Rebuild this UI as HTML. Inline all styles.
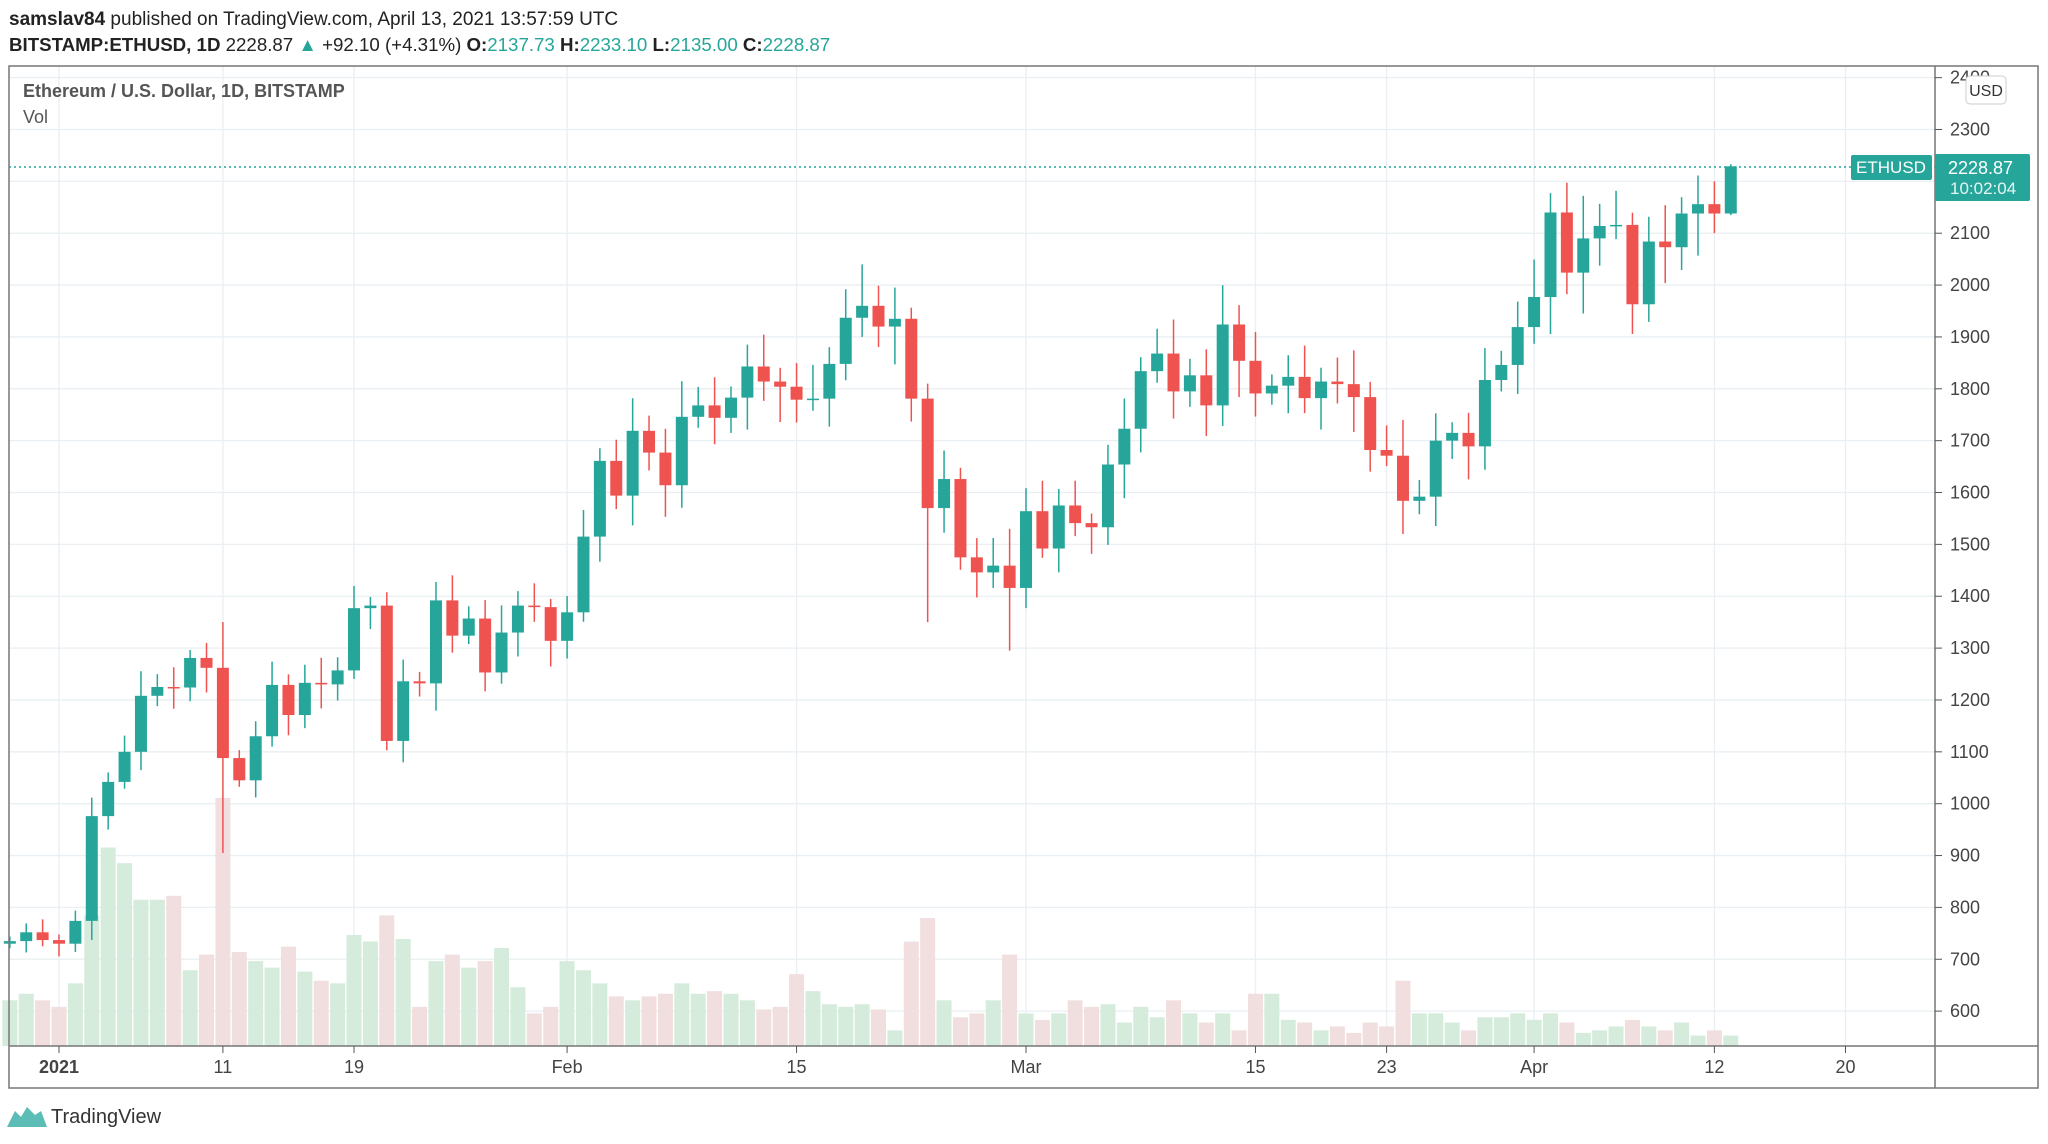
<!DOCTYPE html>
<html><head><meta charset="utf-8"><style>
html,body{margin:0;padding:0;background:#fff;}
body{width:2048px;height:1144px;overflow:hidden;position:relative;font-family:"Liberation Sans",sans-serif;}
</style></head><body>
<svg id="s" width="2048" height="1144" xmlns="http://www.w3.org/2000/svg" style="position:absolute;left:0;top:0">
<text x="9" y="25" font-size="19" fill="#222"><tspan font-weight="bold">samslav84</tspan> published on TradingView.com, April 13, 2021 13:57:59 UTC</text>
<text x="9" y="51" font-size="18.7" fill="#222"><tspan font-weight="bold">BITSTAMP:ETHUSD, 1D</tspan> 2228.87 <tspan fill="#26a69a">▲</tspan> +92.10 (+4.31%) <tspan font-weight="bold">O:</tspan><tspan fill="#26a69a">2137.73</tspan> <tspan font-weight="bold">H:</tspan><tspan fill="#26a69a">2233.10</tspan> <tspan font-weight="bold">L:</tspan><tspan fill="#26a69a">2135.00</tspan> <tspan font-weight="bold">C:</tspan><tspan fill="#26a69a">2228.87</tspan></text>
<g id="grid"></g>
<g id="vol"></g>
<g id="cand"></g>
<line x1="9" y1="167" x2="1935" y2="167" stroke="#26a69a" stroke-width="1.5" stroke-dasharray="2,3"/>
<rect x="9" y="66" width="2029" height="1022" fill="none" stroke="#777" stroke-width="1.5"/>
<line x1="1935" y1="66" x2="1935" y2="1088" stroke="#777" stroke-width="1.5"/>
<line x1="9" y1="1046" x2="2038" y2="1046" stroke="#777" stroke-width="1.5"/>
<text x="23" y="97" font-size="18" font-weight="bold" fill="#555">Ethereum / U.S. Dollar, 1D, BITSTAMP</text>
<text x="23" y="123" font-size="18" fill="#555">Vol</text>
<g id="axis" font-size="18" fill="#444"></g>
<rect x="1966" y="76" width="40" height="28" rx="4" fill="#fff" stroke="#ccc"/>
<text x="1986" y="96" font-size="16" fill="#333" text-anchor="middle">USD</text>
<rect x="1851" y="155" width="81" height="25" rx="2" fill="#26a69a"/>
<text x="1891" y="173" font-size="17" fill="#fff" text-anchor="middle">ETHUSD</text>
<rect x="1935" y="154" width="95" height="47" rx="2" fill="#26a69a"/>
<text x="1948" y="174" font-size="18" fill="#fff">2228.87</text>
<text x="1950" y="194" font-size="17" fill="#e8f5f3">10:02:04</text>
<g transform="translate(7,1105)"><path d="M0,22 L8,6 L14,12 L20,2 L28,10 L34,6 L40,22 Z" fill="#5bbdb5"/><circle cx="20" cy="14" r="6" fill="#5bbdb5"/></g>
<text x="51" y="1123" font-size="20" fill="#333">TradingView</text>
</svg>
<script>
var NS="http://www.w3.org/2000/svg";
function el(p,t,a,txt){var e=document.createElementNS(NS,t);for(var k in a)e.setAttribute(k,a[k]);if(txt!=null)e.textContent=txt;document.getElementById(p).appendChild(e);return e;}
function Y(p){return 129.5+(2300-p)*0.5186;}
function X(d){return 59+16.39*d;}
for(var p=600;p<=2400;p+=100){var y=Y(p);if(y>66&&y<1046)el("grid","line",{x1:9,x2:1935,y1:y,y2:y,stroke:"#e9eff3","stroke-width":1.3});
 el("axis","line",{x1:1935,x2:1942,y1:y,y2:y,stroke:"#555"});el("axis","text",{x:1950,y:y+6},String(p));}
var ticks=[[0,"2021"],[10,"11"],[18,"19"],[31,"Feb"],[45,"15"],[59,"Mar"],[73,"15"],[81,"23"],[90,"Apr"],[101,"12"],[109,"20"]];
ticks.forEach(function(t){var x=X(t[0]);el("grid","line",{x1:x,x2:x,y1:66,y2:1046,stroke:"#e9eff3","stroke-width":1.3});
 el("axis","line",{x1:x,x2:x,y1:1046,y2:1053,stroke:"#555"});el("axis","text",{x:x,y:1073,"text-anchor":"middle","font-weight":t[1]=="2021"?"bold":"normal"},t[1]);});
var C=[735,752,737,730,774,976,1042,1100,1208,1225,1224,1281,1262,1088,1045,1130,1229,1171,1233,1230,1257,1377,1382,1121,1236,1232,1392,1324,1357,1253,1330,1382,1379,1314,1369,1515,1661,1594,1719,1677,1614,1746,1768,1744,1783,1843,1814,1804,1779,1781,1848,1937,1960,1920,1935,1781,1570,1626,1475,1446,1459,1416,1564,1492,1575,1541,1533,1654,1723,1834,1868,1795,1826,1768,1924,1854,1791,1806,1823,1782,1814,1809,1784,1682,1671,1584,1592,1700,1715,1689,1817,1846,1919,1977,2140,2024,2090,2114,2116,1963,2084,2073,2138,2156,2138,2229];
var V=[35,40,35,30,48,100,152,140,112,112,115,58,70,190,72,65,60,76,57,50,48,85,80,100,82,30,65,70,60,65,75,45,25,30,65,58,48,38,35,38,40,48,40,42,40,35,28,30,55,42,32,30,32,28,12,80,98,35,22,25,35,70,25,20,25,35,30,32,18,30,22,35,25,18,25,12,40,40,20,18,12,15,10,18,15,50,25,25,18,12,22,22,25,20,25,18,10,12,15,20,15,12,18,8,12,8];
var HL={10:[1350,905],49:[2040,1900],53:[1810,1350],58:[1530,1295],82:[1740,1520],101:[2200,2100],102:[2233,2135]};
var start=-3,o=730;
for(var i=0;i<C.length;i++){var d=start+i,c=C[i],x=X(d);var up=c>=o;
 var vh=(V[i]||10)*1.306;el("vol","rect",{x:x-7.5,y:1046-vh,width:15,height:vh,fill:up?"#d5ebdc":"#f1dfdf"});
 var hi,lo;if(HL[d]){hi=HL[d][0];lo=HL[d][1];}else{var r=((i*37)%11)/11;hi=Math.max(o,c)+c*(0.012+0.03*r);lo=Math.min(o,c)-c*(0.012+0.03*((i*53)%7)/7);}
 var col=up?"#26a69a":"#ef5350";
 el("cand","line",{x1:x,x2:x,y1:Y(hi),y2:Y(lo),stroke:col,"stroke-width":1.5});
 var t=Y(Math.max(o,c)),b=Y(Math.min(o,c));el("cand","rect",{x:x-6,y:t,width:12,height:Math.max(1.5,b-t),fill:col});
 o=c;}
</script>
</body></html>
